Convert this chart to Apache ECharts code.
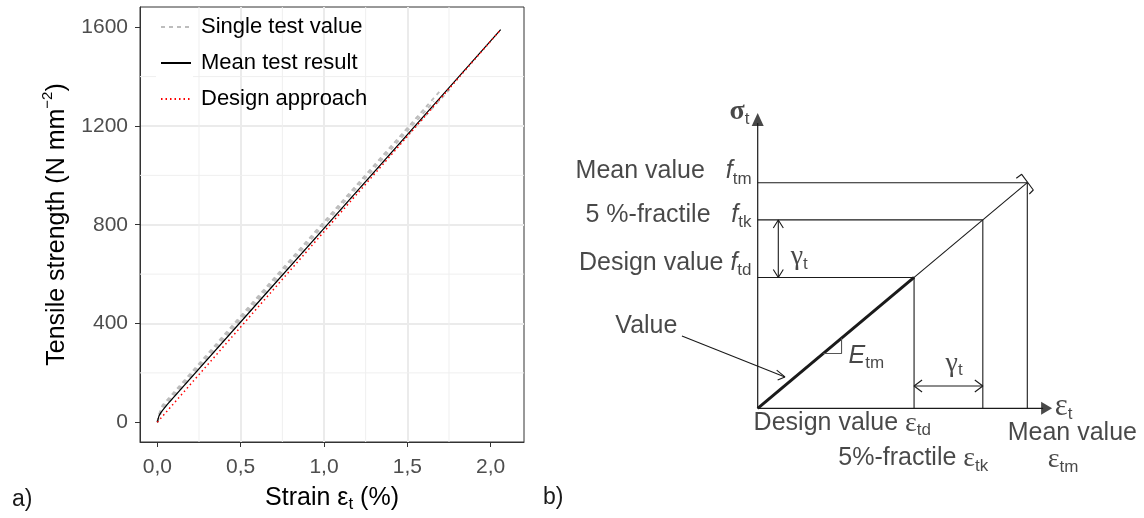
<!DOCTYPE html>
<html>
<head>
<meta charset="utf-8">
<script src="https://cdn.jsdelivr.net/npm/echarts@6/dist/echarts.min.js"></script>
<style>
  html, body { margin: 0; padding: 0; background: #fff; }
  #chart { width: 1144px; height: 518px; }
</style>
</head>
<body>
<div id="chart"></div>
<script>
// ---------- a) measured stress–strain curves ----------
const singleStrain1 = [0, 0.01, 0.03, 0.5, 1.0, 1.5, 1.62];
const singleStress1 = [0, 28, 62, 425, 810, 1190, 1282];
const singleStrain2 = [0, 0.01, 0.03, 0.5, 1.0, 1.5, 1.70];
const singleStress2 = [0, 32, 68, 430, 812, 1192, 1345];
const singleStrain3 = [0, 0.01, 0.03, 0.5, 1.0, 1.5, 1.66];
const singleStress3 = [0, 25, 58, 418, 800, 1180, 1300];
const singleStrain4 = [0, 0.01, 0.03, 0.5, 1.0, 1.5, 1.77];
const singleStress4 = [0, 20, 50, 408, 785, 1162, 1360];

const meanStrain = [0, 0.004, 0.01, 0.02, 0.03, 0.06, 0.6, 1.0, 1.4, 1.8, 2.06];
const meanStress = [0, 12, 26, 38, 47, 72, 482, 785, 1089, 1393, 1590];

const designStrain = [0, 2.06];
const designStress = [0, 1590];

const strainTicks = [0, 0.5, 1.0, 1.5, 2.0];
const stressTicks = [0, 400, 800, 1200, 1600];
const strainMinor = [0.25, 0.75, 1.25, 1.75];
const stressMinor = [200, 600, 1000, 1400];

const seriesNames = ['Single test value', 'Mean test result', 'Design approach'];

// ---------- b) design model (strain and stress relative to mean values) ----------
// order: design value, 5 %-fractile, mean value
const modelStrain = [0.58, 0.835, 1.0];
const modelStress = [0.58, 0.835, 1.0];

// ---------- setup ----------
const FONT = '"Liberation Sans", Arial, sans-serif';
const SERIF = '"Liberation Serif", serif';
const INK = '#1a1a1a';
const chart = echarts.init(document.getElementById('chart'));

const zip = (xs, ys) => xs.map((x, i) => [x, ys[i]]);

// panel a axis extents (5 % padding around the data, ggplot style)
const SX = [-0.104, 2.2];
const SY = [-80, 1682];

// panel b drawing scale: pixel origin and pixels per unit
const B_ORIGIN = [757.7, 408.3];
const UX = 269.6, UY = 225.6;
const BX = [-0.7, 1.4], BY = [-0.4, 1.4];

const onStep = (v, step) => Math.abs(v / step - Math.round(v / step)) < 1e-6;

// ---------- panel a series ----------
const grayStyle = { color: '#bdbdbd', width: 1.8, type: [4, 4] };
const singles = [
  zip(singleStrain1, singleStress1),
  zip(singleStrain2, singleStress2),
  zip(singleStrain3, singleStress3),
  zip(singleStrain4, singleStress4)
].map(d => ({
  name: seriesNames[0], type: 'line', xAxisIndex: 0, yAxisIndex: 0,
  data: d, symbol: 'none', lineStyle: grayStyle, z: 2, silent: true
}));

const minorGrid = [
  ...strainMinor.map(v => [[v, SY[0]], [v, SY[1]]]),
  ...stressMinor.map(v => [[SX[0], v], [SX[1], v]])
].map(d => ({
  name: 'minor', type: 'line', xAxisIndex: 0, yAxisIndex: 0, data: d, symbol: 'none',
  lineStyle: { color: '#efefef', width: 1 }, z: 1, silent: true
}));

const panelA = [
  ...minorGrid,
  ...singles,
  {
    name: seriesNames[1], type: 'line', xAxisIndex: 0, yAxisIndex: 0,
    data: zip(meanStrain, meanStress), symbol: 'none',
    lineStyle: { color: '#000', width: 1.2 }, z: 3, silent: true
  },
  {
    name: seriesNames[2], type: 'line', xAxisIndex: 0, yAxisIndex: 0,
    data: zip(designStrain, designStress), symbol: 'none',
    lineStyle: { color: '#ff0000', width: 1.5, type: [1.5, 3] }, z: 4, silent: true
  }
];

// ---------- panel b series ----------
function seg(points, width, color) {
  return {
    name: 'model', type: 'line', xAxisIndex: 1, yAxisIndex: 1, data: points,
    symbol: 'none', silent: true, clip: false,
    lineStyle: { color: color || INK, width: width || 1.1 }
  };
}
const [eTd, eTk, eTm] = modelStrain;
const [fTd, fTk, fTm] = modelStress;
const px = v => v / UX, py = v => v / UY;

const yAxisTip = 1.309, xAxisTip = 1.092;
const gx = px(20.6);          // vertical gamma arrow, offset from stress axis
const gy = py(22.3);          // horizontal gamma arrow, offset from strain axis

const panelB = [
  // axes
  seg([[0, 0], [0, yAxisTip - py(10)]], 1.2),
  seg([[0, 0], [xAxisTip - px(9), 0]], 1.2),
  // levels
  seg([[0, fTm], [eTm, fTm]]),
  seg([[0, fTk], [eTk, fTk]]),
  seg([[0, fTd], [eTd, fTd]]),
  seg([[eTd, 0], [eTd, fTd]]),
  seg([[eTk, 0], [eTk, fTk]]),
  seg([[eTm, 0], [eTm, fTm]]),
  // linear elastic line, design branch drawn thick
  seg([[0, 0], [eTm, fTm]], 1.1),
  seg([[0, 0], [eTd, fTd]], 3),
  // end cap at the mean value
  seg([[eTm - px(11), fTm + py(4.4)], [eTm - px(5.6), fTm + py(8.4)],
       [eTm + px(6), fTm - py(7.3)], [eTm + px(2), fTm - py(11.3)]], 1.1),
  // partial factor between 5 %-fractile and design stress
  seg([[gx, fTk], [gx, fTd]], 1.1),
  seg([[gx - px(5), fTk - py(8)], [gx, fTk], [gx + px(5), fTk - py(8)]], 1.1),
  seg([[gx - px(5), fTd + py(8)], [gx, fTd], [gx + px(5), fTd + py(8)]], 1.1),
  // partial factor between design and 5 %-fractile strain
  seg([[eTd, gy], [eTk, gy]], 1.1),
  seg([[eTd + px(8), gy + py(6)], [eTd, gy], [eTd + px(8), gy - py(6)]], 1.1),
  seg([[eTk - px(8), gy + py(6)], [eTk, gy], [eTk - px(8), gy - py(6)]], 1.1),
  // slope marker
  seg([[0.243, 0.243], [0.311, 0.243], [0.311, 0.311]], 1.1, '#555'),
  // pointer from the "Value" note to the design line
  seg([[-0.281, 0.32], [0.101, 0.139]], 1.1),
  seg([[0.0704, 0.169], [0.101, 0.139], [0.074, 0.125]], 1.1),
  // arrow heads of the axes
  {
    name: 'model', type: 'scatter', xAxisIndex: 1, yAxisIndex: 1, silent: true,
    itemStyle: { color: INK },
    data: [
      { value: [0, yAxisTip - py(6.5)], symbol: 'triangle', symbolSize: [12, 13] },
      { value: [xAxisTip - px(5.5), 0], symbol: 'triangle', symbolSize: [13, 11], symbolRotate: -90 }
    ]
  }
];

// text notes of panel b
const RICH = {
  i: { fontStyle: 'italic', fontSize: 25, fontFamily: FONT, color: INK },
  s: { fontSize: 17, fontFamily: FONT, color: INK, verticalAlign: 'bottom', lineHeight: 17 },
  e: { fontSize: 28, fontFamily: SERIF, color: INK },
  E: { fontSize: 31, fontFamily: SERIF, color: INK },
  g: { fontSize: 28, fontFamily: SERIF, color: INK },
  sig: { fontSize: 28, fontWeight: 'bold', fontFamily: SERIF, color: INK }
};
function note(x, y, text, position) {
  return {
    value: [x, y],
    label: { show: true, formatter: text, position: position, distance: 0 }
  };
}
panelB.push({
  name: 'notes', type: 'scatter', xAxisIndex: 1, yAxisIndex: 1, silent: true,
  symbolSize: 1, itemStyle: { color: 'rgba(0,0,0,0)' },
  label: { fontSize: 25, fontFamily: FONT, color: INK, lineHeight: 32, rich: RICH },
  data: [
    note(-0.029, yAxisTip + 0.004, '{sig|σ}{s|t}', 'left'),
    note(-0.021, fTm + 0.05, 'Mean value   {i|f}{s|tm}', 'left'),
    note(-0.021, fTk + 0.022, '5 %-fractile   {i|f}{s|tk}', 'left'),
    note(-0.021, fTd + 0.063, 'Design value {i|f}{s|td}', 'left'),
    note(-0.296, 0.365, 'Value', 'left'),
    note(gx + 0.044, (fTk + fTd) / 2 - 0.036, '{g|γ}{s|t}', 'right'),
    note(eTd + 0.115, gy + 0.101, '{g|γ}{s|t}', 'right'),
    note(0.335, 0.232, '{i|E}{s|tm}', 'right'),
    note(-0.017, -0.066, 'Design value {e|ε}{s|td}', 'right'),
    note(0.297, -0.222, '5%-fractile {e|ε}{s|tk}', 'right'),
    note(1.167, -0.111, 'Mean value', 'inside'),
    note(1.133, -0.229, '{e|ε}{s|tm}', 'inside'),
    note(xAxisTip + 0.008, 0.007, '{E|ε}{s|t}', 'right')
  ]
});

// ---------- option ----------
const tickLabel = { fontSize: 21, fontFamily: FONT, color: '#4d4d4d' };
const option = {
  animation: false,
  backgroundColor: '#fff',
  textStyle: { fontFamily: FONT },
  grid: [
    { left: 140, top: 7, right: 620, bottom: 75, show: true, borderColor: '#333', borderWidth: 1, backgroundColor: '#fff' },
    {
      left: B_ORIGIN[0] + BX[0] * UX, width: (BX[1] - BX[0]) * UX,
      top: B_ORIGIN[1] - BY[1] * UY, height: (BY[1] - BY[0]) * UY, show: false
    }
  ],
  xAxis: [
    {
      type: 'value', gridIndex: 0, min: SX[0], max: SX[1],
      minInterval: 0.5, maxInterval: 0.5, splitNumber: 5,
      name: 'Strain ε{sub|t} (%)', nameLocation: 'middle', nameGap: 41,
      nameTextStyle: {
        fontSize: 25, fontFamily: FONT, color: '#000', lineHeight: 30,
        rich: { sub: { fontSize: 17, fontFamily: FONT, color: '#000', verticalAlign: 'bottom', lineHeight: 17 } }
      },
      axisLine: { show: true, onZero: false, lineStyle: { color: '#333', width: 1 } },
      axisTick: { show: true, length: 5, lineStyle: { color: '#333', width: 1 }, customValues: strainTicks },
      axisLabel: Object.assign({ margin: 15, customValues: strainTicks,
        formatter: v => onStep(v, 0.5) ? v.toFixed(1).replace('.', ',') : '' }, tickLabel),
      splitLine: { show: true, showMinLine: false, showMaxLine: false, lineStyle: { color: '#ebebeb', width: 2 } }
    },
    { type: 'value', gridIndex: 1, min: BX[0], max: BX[1], show: false }
  ],
  yAxis: [
    {
      type: 'value', gridIndex: 0, min: SY[0], max: SY[1],
      minInterval: 400, maxInterval: 400, splitNumber: 4,
      name: 'Tensile strength (N mm{sup|−2})', nameLocation: 'middle', nameGap: 66, nameRotate: 90,
      nameTextStyle: {
        fontSize: 25, fontFamily: FONT, color: '#000', lineHeight: 34,
        rich: { sup: { fontSize: 15, fontFamily: FONT, color: '#000', verticalAlign: 'top', lineHeight: 15 } }
      },
      axisLine: { show: true, onZero: false, lineStyle: { color: '#333', width: 1 } },
      axisTick: { show: true, length: 5, lineStyle: { color: '#333', width: 1 }, customValues: stressTicks },
      axisLabel: Object.assign({ margin: 12, customValues: stressTicks,
        formatter: v => onStep(v, 400) ? String(v) : '' }, tickLabel),
      splitLine: { show: true, showMinLine: false, showMaxLine: false, lineStyle: { color: '#ebebeb', width: 2 } }
    },
    { type: 'value', gridIndex: 1, min: BY[0], max: BY[1], show: false }
  ],
  legend: {
    data: seriesNames, orient: 'vertical', left: 160, top: 15, padding: 0,
    itemWidth: 30, itemHeight: 14, itemGap: 12, selectedMode: false,
    itemStyle: { opacity: 0 },
    textStyle: { fontSize: 22, fontFamily: FONT, color: '#000', lineHeight: 24, padding: [0, 0, 0, 5] },
    z: 5
  },
  graphic: {
    elements: [
      { type: 'rect', shape: { x: 156, y: 9, width: 37, height: 106 }, style: { fill: '#fff' }, z: 1.5, silent: true },
      { type: 'text', left: 12, top: 488, style: { text: 'a)', fontSize: 23, fontFamily: FONT, fill: INK } },
      { type: 'text', left: 543, top: 486, style: { text: 'b)', fontSize: 23, fontFamily: FONT, fill: INK } }
    ]
  },
  series: [...panelA, ...panelB]
};
chart.setOption(option);
</script>
</body>
</html>
